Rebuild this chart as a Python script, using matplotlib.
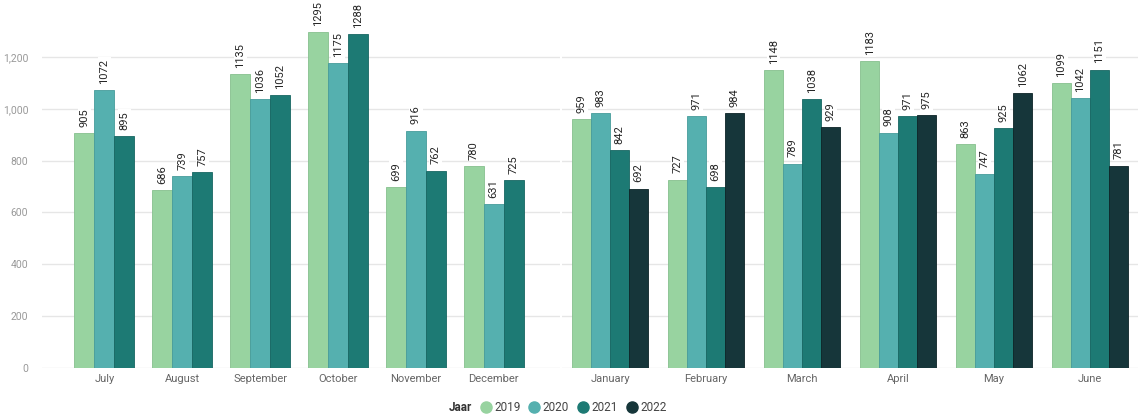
import numpy as np
import matplotlib.pyplot as plt
from matplotlib.ticker import FuncFormatter
from matplotlib.lines import Line2D
from matplotlib.offsetbox import HPacker

# =========================
# Data
# =========================
months_a = ["July", "August", "September", "October", "November", "December"]
years_a = ["2019", "2020", "2021"]
vals_a = {
    "2019": [905, 686, 1135, 1295, 699, 780],
    "2020": [1072, 739, 1036, 1175, 916, 631],
    "2021": [895, 757, 1052, 1288, 762, 725],
}

months_b = ["January", "February", "March", "April", "May", "June"]
years_b = ["2019", "2020", "2021", "2022"]
vals_b = {
    "2019": [959, 727, 1148, 1183, 863, 1099],
    "2020": [983, 971, 789, 908, 747, 1042],
    "2021": [842, 698, 1038, 971, 925, 1151],
    "2022": [692, 984, 929, 975, 1062, 781],
}

colors = {"2019": "#98D3A0", "2020": "#55B0AF", "2021": "#1D7A74", "2022": "#16363A"}
edges = {"2019": "#86c08e", "2020": "#469c9b", "2021": "#176662", "2022": "#0c2326"}

plt.rcParams['font.family'] = ['Roboto', 'DejaVu Sans']

fig = plt.figure(figsize=(11.38, 4.16), dpi=100)
ax1 = fig.add_axes([0.037, 0.1154, 0.455, 0.86])
ax2 = fig.add_axes([0.494, 0.1154, 0.506, 0.86])

ytop = 0.86 * 416 * 1200 / 311


def draw(ax, months, years, vals, bw, xlim):
    x = np.arange(len(months))
    n = len(years)
    for i, yr in enumerate(years):
        pos = x + (i - (n - 1) / 2) * bw
        ax.bar(pos, vals[yr], width=bw, color=colors[yr], edgecolor=edges[yr],
               linewidth=0.6, zorder=2)
        for p, v in zip(pos, vals[yr]):
            ax.text(p, v + 24, str(v), rotation=90, ha='center', va='bottom',
                    fontsize=8, color='#252525', zorder=3, clip_on=False,
                    bbox=dict(boxstyle='square,pad=0.15', fc='white', ec='none'))
    ax.set_xticks(x)
    ax.set_xticklabels(months, fontsize=8, color='#666666')
    ax.set_xlim(*xlim)
    ax.set_ylim(0, ytop)
    ax.set_yticks(range(0, 1201, 200))
    ax.grid(axis='y', color='#e6e6e6', linewidth=1, zorder=0)
    ax.set_axisbelow(True)
    for s in ax.spines.values():
        s.set_visible(False)
    ax.tick_params(length=0, pad=4)


draw(ax1, months_a, years_a, vals_a, 0.256, (-0.8, 5.85))
draw(ax2, months_b, years_b, vals_b, 0.198, (-0.5, 5.5))

ax1.yaxis.set_major_formatter(FuncFormatter(lambda v, p: f"{int(v):,}"))
ax1.tick_params(axis='y', labelsize=7.5, labelcolor='#999999', pad=10)
ax2.set_yticklabels([])

# =========================
# Legend
# =========================
handles = [Line2D([0], [0], marker='o', linestyle='', markersize=8,
                  markerfacecolor=colors[y], markeredgecolor=colors[y]) for y in years_b]
leg = fig.legend(handles, years_b, loc='center', bbox_to_anchor=(0.49, 0.02),
                 ncol=4, frameon=False, fontsize=8.5, handletextpad=0.0,
                 columnspacing=0.5, handlelength=1.4, title="Jaar")
title = leg.get_title()
title.set_fontweight('bold')
title.set_fontsize(8.5)
title.set_color('#333333')
for t in leg.get_texts():
    t.set_color('#444444')
# title inline, to the left of the entries
box = leg._legend_box
box._children = [HPacker(children=list(box._children), align="center", pad=0, sep=4)]

fig.savefig("out.png", dpi=100)
